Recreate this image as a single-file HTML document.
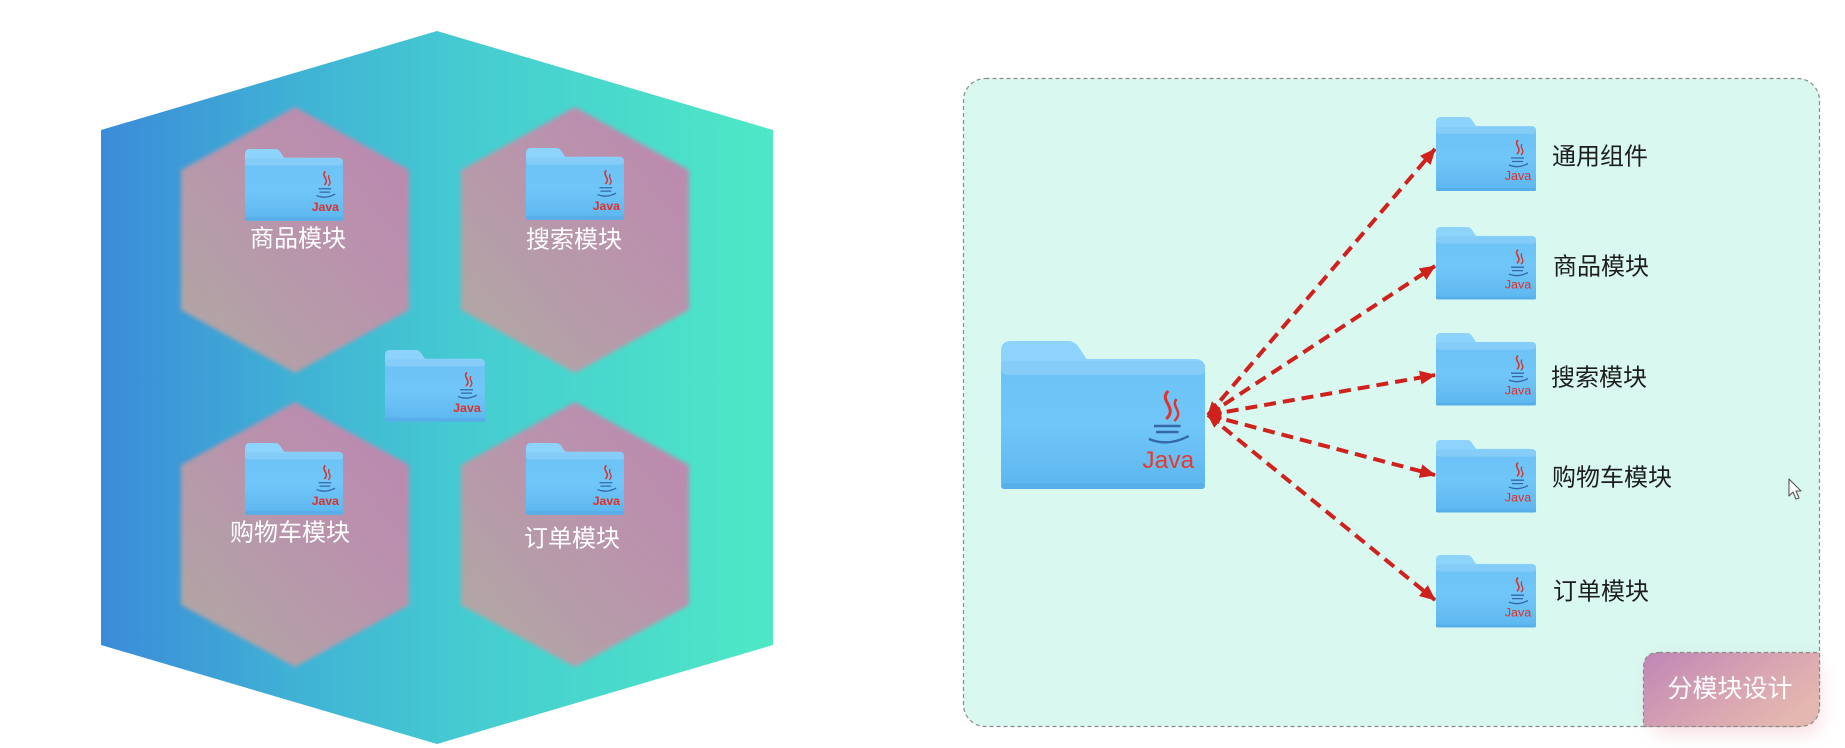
<!DOCTYPE html>
<html>
<head>
<meta charset="utf-8">
<style>
  html,body{margin:0;padding:0;background:#ffffff;}
  body{width:1845px;height:748px;overflow:hidden;}
  svg{display:block;}
  text{font-family:"Liberation Sans","Noto Sans CJK SC",sans-serif;}
</style>
</head>
<body>
<svg width="1845" height="748" viewBox="0 0 1845 748" xmlns="http://www.w3.org/2000/svg">
  <defs>
    <linearGradient id="bigHex" x1="0" y1="0" x2="1" y2="0">
      <stop offset="0" stop-color="#3b8bd8"/>
      <stop offset="0.3" stop-color="#40b3d5"/>
      <stop offset="0.55" stop-color="#45ccd1"/>
      <stop offset="1" stop-color="#4ee8c6"/>
    </linearGradient>
    <linearGradient id="pinkHex" x1="1" y1="0" x2="0" y2="1">
      <stop offset="0" stop-color="#c184b0"/>
      <stop offset="0.45" stop-color="#bd93ab"/>
      <stop offset="1" stop-color="#b4aaa2"/>
    </linearGradient>
    <filter id="soft" x="-10%" y="-10%" width="120%" height="120%">
      <feGaussianBlur stdDeviation="2.2"/>
    </filter>
    <linearGradient id="fBody" x1="0" y1="0" x2="0" y2="1">
      <stop offset="0" stop-color="#6cc2f6"/>
      <stop offset="0.5" stop-color="#70c6f8"/>
      <stop offset="1" stop-color="#5db6ef"/>
    </linearGradient>
    <linearGradient id="badgeG" x1="0" y1="0" x2="1" y2="0.6">
      <stop offset="0" stop-color="#bf86b6"/>
      <stop offset="0.55" stop-color="#d6a2b2"/>
      <stop offset="1" stop-color="#e4b7b0"/>
    </linearGradient>
    <filter id="glow" x="-30%" y="-30%" width="160%" height="160%">
      <feGaussianBlur stdDeviation="9"/>
    </filter>
    <marker id="ah" viewBox="0 0 16 14" refX="15" refY="7" markerWidth="16" markerHeight="14" markerUnits="userSpaceOnUse" orient="auto-start-reverse">
      <path d="M0,0 L16,7 L0,14 Z" fill="#d0211d"/>
    </marker>
    <marker id="ah2" viewBox="0 0 14 14" refX="13" refY="7" markerWidth="14" markerHeight="14" markerUnits="userSpaceOnUse" orient="auto-start-reverse">
      <path d="M0,1 L14,7 L0,13 Z" fill="#d0211d"/>
    </marker>
  </defs>

  <!-- ================= LEFT: big hexagon ================= -->
  <polygon points="437,31 773,130 773,645 437,744 101,645 101,130" fill="url(#bigHex)"/>

  <!-- small hexagons -->
  <g filter="url(#soft)" opacity="0.97">
    <polygon points="295,107 409,170 409,310 295,373 181,310 181,170" fill="url(#pinkHex)"/>
    <polygon points="575,107 689,170 689,310 575,373 461,310 461,170" fill="url(#pinkHex)"/>
    <polygon points="295,402 409,465 409,605 295,667 181,605 181,465" fill="url(#pinkHex)"/>
    <polygon points="575,402 689,465 689,605 575,667 461,605 461,465" fill="url(#pinkHex)"/>
  </g>

  <!-- Left folders (local folder 100x74) -->
  <g transform="translate(245,149) scale(0.98,0.97)">
    <path d="M0,5 Q0,0 5,0 H31 Q34,0 36,3 L40,9 H95 Q100,9 100,14 V22 H0 Z" fill="#8dd3fb"/>
    <rect x="0" y="10" width="100" height="64" rx="3" fill="url(#fBody)"/>
    <rect x="0" y="10" width="100" height="7" rx="3" fill="#85cdf8"/>
    <rect x="0" y="70" width="100" height="4" rx="2" fill="#58aee8"/>
    <path d="M82,23 C77,28 87,31 81,37" fill="none" stroke="#d6332b" stroke-width="1.6"/>
    <path d="M86,27 C83,31 90,33 85,38" fill="none" stroke="#d6332b" stroke-width="1.3"/>
    <path d="M75,41 H88 M76,44.5 H87 M73,48 Q82,52 92,46.5" fill="none" stroke="#3667a6" stroke-width="1.3"/>
    <text x="82" y="64" font-size="12.5" fill="#e0302a" text-anchor="middle" font-weight="bold">Java</text>
  </g>
  <g transform="translate(526,148) scale(0.98,0.97)">
    <path d="M0,5 Q0,0 5,0 H31 Q34,0 36,3 L40,9 H95 Q100,9 100,14 V22 H0 Z" fill="#8dd3fb"/>
    <rect x="0" y="10" width="100" height="64" rx="3" fill="url(#fBody)"/>
    <rect x="0" y="10" width="100" height="7" rx="3" fill="#85cdf8"/>
    <rect x="0" y="70" width="100" height="4" rx="2" fill="#58aee8"/>
    <path d="M82,23 C77,28 87,31 81,37" fill="none" stroke="#d6332b" stroke-width="1.6"/>
    <path d="M86,27 C83,31 90,33 85,38" fill="none" stroke="#d6332b" stroke-width="1.3"/>
    <path d="M75,41 H88 M76,44.5 H87 M73,48 Q82,52 92,46.5" fill="none" stroke="#3667a6" stroke-width="1.3"/>
    <text x="82" y="64" font-size="12.5" fill="#e0302a" text-anchor="middle" font-weight="bold">Java</text>
  </g>
  <g transform="translate(245,443) scale(0.98,0.97)">
    <path d="M0,5 Q0,0 5,0 H31 Q34,0 36,3 L40,9 H95 Q100,9 100,14 V22 H0 Z" fill="#8dd3fb"/>
    <rect x="0" y="10" width="100" height="64" rx="3" fill="url(#fBody)"/>
    <rect x="0" y="10" width="100" height="7" rx="3" fill="#85cdf8"/>
    <rect x="0" y="70" width="100" height="4" rx="2" fill="#58aee8"/>
    <path d="M82,23 C77,28 87,31 81,37" fill="none" stroke="#d6332b" stroke-width="1.6"/>
    <path d="M86,27 C83,31 90,33 85,38" fill="none" stroke="#d6332b" stroke-width="1.3"/>
    <path d="M75,41 H88 M76,44.5 H87 M73,48 Q82,52 92,46.5" fill="none" stroke="#3667a6" stroke-width="1.3"/>
    <text x="82" y="64" font-size="12.5" fill="#e0302a" text-anchor="middle" font-weight="bold">Java</text>
  </g>
  <g transform="translate(526,443) scale(0.98,0.97)">
    <path d="M0,5 Q0,0 5,0 H31 Q34,0 36,3 L40,9 H95 Q100,9 100,14 V22 H0 Z" fill="#8dd3fb"/>
    <rect x="0" y="10" width="100" height="64" rx="3" fill="url(#fBody)"/>
    <rect x="0" y="10" width="100" height="7" rx="3" fill="#85cdf8"/>
    <rect x="0" y="70" width="100" height="4" rx="2" fill="#58aee8"/>
    <path d="M82,23 C77,28 87,31 81,37" fill="none" stroke="#d6332b" stroke-width="1.6"/>
    <path d="M86,27 C83,31 90,33 85,38" fill="none" stroke="#d6332b" stroke-width="1.3"/>
    <path d="M75,41 H88 M76,44.5 H87 M73,48 Q82,52 92,46.5" fill="none" stroke="#3667a6" stroke-width="1.3"/>
    <text x="82" y="64" font-size="12.5" fill="#e0302a" text-anchor="middle" font-weight="bold">Java</text>
  </g>
  <g transform="translate(385,350) scale(1,0.97)">
    <path d="M0,5 Q0,0 5,0 H31 Q34,0 36,3 L40,9 H95 Q100,9 100,14 V22 H0 Z" fill="#8dd3fb"/>
    <rect x="0" y="10" width="100" height="64" rx="3" fill="url(#fBody)"/>
    <rect x="0" y="10" width="100" height="7" rx="3" fill="#85cdf8"/>
    <rect x="0" y="70" width="100" height="4" rx="2" fill="#58aee8"/>
    <path d="M82,23 C77,28 87,31 81,37" fill="none" stroke="#d6332b" stroke-width="1.6"/>
    <path d="M86,27 C83,31 90,33 85,38" fill="none" stroke="#d6332b" stroke-width="1.3"/>
    <path d="M75,41 H88 M76,44.5 H87 M73,48 Q82,52 92,46.5" fill="none" stroke="#3667a6" stroke-width="1.3"/>
    <text x="82" y="64" font-size="12.5" fill="#e0302a" text-anchor="middle" font-weight="bold">Java</text>
  </g>

  <!-- left labels -->
  <g fill="#ffffff" font-size="24" text-anchor="middle" dominant-baseline="central">
    <text x="298" y="239">商品模块</text>
    <text x="574" y="240">搜索模块</text>
    <text x="290" y="533">购物车模块</text>
    <text x="572" y="539">订单模块</text>
  </g>

  <!-- ================= RIGHT panel ================= -->
  <rect x="963.5" y="78.5" width="856" height="648" rx="22" ry="22" fill="#d8f8f0" stroke="#8a8a8a" stroke-width="1.2" stroke-dasharray="4 3"/>

  <!-- badge glow -->
  <rect x="1650" y="660" width="170" height="74" rx="16" fill="#f0b8c0" opacity="0.45" filter="url(#glow)"/>
  <!-- badge -->
  <path d="M1659,652.5 H1819.5 V705 Q1819.5,726.5 1798,726.5 H1643.5 V668 Q1643.5,652.5 1659,652.5 Z" fill="url(#badgeG)" stroke="#8a8a8a" stroke-width="1.2" stroke-dasharray="4 3"/>
  <text x="1730" y="689" font-size="25" fill="#ffffff" text-anchor="middle" dominant-baseline="central">分模块设计</text>

  <!-- big folder -->
  <g transform="translate(1001,341) scale(2.04,2.0)">
    <path d="M0,5 Q0,0 5,0 H33 Q36,0 38,3 L42,9 H95 Q100,9 100,14 V22 H0 Z" fill="#8dd3fb"/>
    <rect x="0" y="10" width="100" height="64" rx="3" fill="url(#fBody)"/>
    <rect x="0" y="10" width="100" height="7" rx="3" fill="#85cdf8"/>
    <rect x="0" y="71" width="100" height="3" rx="1.5" fill="#58aee8"/>
    <path d="M82,25 C77,30 87,33 81,39" fill="none" stroke="#e0332b" stroke-width="1.5"/>
    <path d="M86,29 C83,33 90,35 85,40" fill="none" stroke="#e0332b" stroke-width="1.2"/>
    <path d="M75,42.5 H88 M76,45.5 H87 M72.5,49 Q82,53 92,47.5" fill="none" stroke="#3667a6" stroke-width="1.2"/>
    <text x="82" y="63.5" font-size="12" fill="#e53a30" text-anchor="middle">Java</text>
  </g>

  <!-- arrows -->
  <g stroke="#d0211d" stroke-width="4" stroke-dasharray="12 7" fill="none">
    <line x1="1208" y1="415" x2="1435" y2="149" marker-start="url(#ah2)" marker-end="url(#ah)"/>
    <line x1="1208" y1="415" x2="1435" y2="266" marker-start="url(#ah2)" marker-end="url(#ah)"/>
    <line x1="1208" y1="415" x2="1435" y2="375" marker-start="url(#ah2)" marker-end="url(#ah)"/>
    <line x1="1208" y1="415" x2="1435" y2="475" marker-start="url(#ah2)" marker-end="url(#ah)"/>
    <line x1="1208" y1="415" x2="1435" y2="600" marker-start="url(#ah2)" marker-end="url(#ah)"/>
  </g>

  <!-- right small folders -->
  <g transform="translate(1436,117)">
    <path d="M0,5 Q0,0 5,0 H31 Q34,0 36,3 L40,9 H95 Q100,9 100,14 V22 H0 Z" fill="#8dd3fb"/>
    <rect x="0" y="10" width="100" height="64" rx="3" fill="url(#fBody)"/>
    <rect x="0" y="10" width="100" height="7" rx="3" fill="#85cdf8"/>
    <rect x="0" y="71" width="100" height="3" rx="1.5" fill="#58aee8"/>
    <path d="M82,23 C77,28 87,31 81,37" fill="none" stroke="#d6332b" stroke-width="1.6"/>
    <path d="M86,27 C83,31 90,33 85,38" fill="none" stroke="#d6332b" stroke-width="1.3"/>
    <path d="M75,41 H88 M76,44.5 H87 M73,48 Q82,52 92,46.5" fill="none" stroke="#3667a6" stroke-width="1.3"/>
    <text x="82" y="63" font-size="12.5" fill="#e0302a" text-anchor="middle">Java</text>
  </g>
  <g transform="translate(1436,227) scale(1,0.98)">
    <path d="M0,5 Q0,0 5,0 H31 Q34,0 36,3 L40,9 H95 Q100,9 100,14 V22 H0 Z" fill="#8dd3fb"/>
    <rect x="0" y="10" width="100" height="64" rx="3" fill="url(#fBody)"/>
    <rect x="0" y="10" width="100" height="7" rx="3" fill="#85cdf8"/>
    <rect x="0" y="71" width="100" height="3" rx="1.5" fill="#58aee8"/>
    <path d="M82,23 C77,28 87,31 81,37" fill="none" stroke="#d6332b" stroke-width="1.6"/>
    <path d="M86,27 C83,31 90,33 85,38" fill="none" stroke="#d6332b" stroke-width="1.3"/>
    <path d="M75,41 H88 M76,44.5 H87 M73,48 Q82,52 92,46.5" fill="none" stroke="#3667a6" stroke-width="1.3"/>
    <text x="82" y="63" font-size="12.5" fill="#e0302a" text-anchor="middle">Java</text>
  </g>
  <g transform="translate(1436,333) scale(1,0.98)">
    <path d="M0,5 Q0,0 5,0 H31 Q34,0 36,3 L40,9 H95 Q100,9 100,14 V22 H0 Z" fill="#8dd3fb"/>
    <rect x="0" y="10" width="100" height="64" rx="3" fill="url(#fBody)"/>
    <rect x="0" y="10" width="100" height="7" rx="3" fill="#85cdf8"/>
    <rect x="0" y="71" width="100" height="3" rx="1.5" fill="#58aee8"/>
    <path d="M82,23 C77,28 87,31 81,37" fill="none" stroke="#d6332b" stroke-width="1.6"/>
    <path d="M86,27 C83,31 90,33 85,38" fill="none" stroke="#d6332b" stroke-width="1.3"/>
    <path d="M75,41 H88 M76,44.5 H87 M73,48 Q82,52 92,46.5" fill="none" stroke="#3667a6" stroke-width="1.3"/>
    <text x="82" y="63" font-size="12.5" fill="#e0302a" text-anchor="middle">Java</text>
  </g>
  <g transform="translate(1436,440) scale(1,0.98)">
    <path d="M0,5 Q0,0 5,0 H31 Q34,0 36,3 L40,9 H95 Q100,9 100,14 V22 H0 Z" fill="#8dd3fb"/>
    <rect x="0" y="10" width="100" height="64" rx="3" fill="url(#fBody)"/>
    <rect x="0" y="10" width="100" height="7" rx="3" fill="#85cdf8"/>
    <rect x="0" y="71" width="100" height="3" rx="1.5" fill="#58aee8"/>
    <path d="M82,23 C77,28 87,31 81,37" fill="none" stroke="#d6332b" stroke-width="1.6"/>
    <path d="M86,27 C83,31 90,33 85,38" fill="none" stroke="#d6332b" stroke-width="1.3"/>
    <path d="M75,41 H88 M76,44.5 H87 M73,48 Q82,52 92,46.5" fill="none" stroke="#3667a6" stroke-width="1.3"/>
    <text x="82" y="63" font-size="12.5" fill="#e0302a" text-anchor="middle">Java</text>
  </g>
  <g transform="translate(1436,555) scale(1,0.98)">
    <path d="M0,5 Q0,0 5,0 H31 Q34,0 36,3 L40,9 H95 Q100,9 100,14 V22 H0 Z" fill="#8dd3fb"/>
    <rect x="0" y="10" width="100" height="64" rx="3" fill="url(#fBody)"/>
    <rect x="0" y="10" width="100" height="7" rx="3" fill="#85cdf8"/>
    <rect x="0" y="71" width="100" height="3" rx="1.5" fill="#58aee8"/>
    <path d="M82,23 C77,28 87,31 81,37" fill="none" stroke="#d6332b" stroke-width="1.6"/>
    <path d="M86,27 C83,31 90,33 85,38" fill="none" stroke="#d6332b" stroke-width="1.3"/>
    <path d="M75,41 H88 M76,44.5 H87 M73,48 Q82,52 92,46.5" fill="none" stroke="#3667a6" stroke-width="1.3"/>
    <text x="82" y="63" font-size="12.5" fill="#e0302a" text-anchor="middle">Java</text>
  </g>

  <!-- right labels -->
  <g fill="#1e1e1e" font-size="24" dominant-baseline="central">
    <text x="1552" y="157">通用组件</text>
    <text x="1553" y="267">商品模块</text>
    <text x="1551" y="378">搜索模块</text>
    <text x="1552" y="478">购物车模块</text>
    <text x="1553" y="592">订单模块</text>
  </g>

  <!-- cursor -->
  <path d="M1789,479 L1789,496 L1793,492 L1796,499 L1799,498 L1796,491 L1801,491 Z" fill="#ffffff" stroke="#555555" stroke-width="1.1" stroke-linejoin="round"/>
</svg>
</body>
</html>
